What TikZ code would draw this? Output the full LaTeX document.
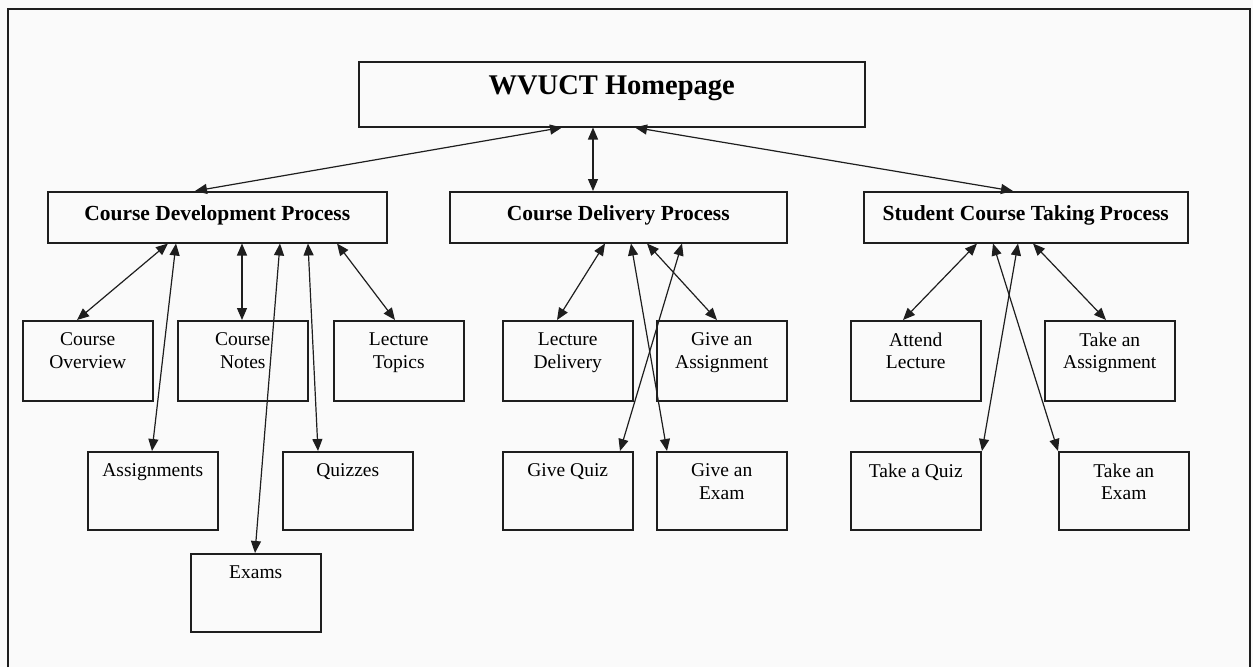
\documentclass[tikz,border=0pt]{standalone}
\usepackage{fontspec}
\setmainfont{Liberation Serif}
\usetikzlibrary{arrows.meta}
\definecolor{bg}{RGB}{250,250,250}
\definecolor{ink}{RGB}{30,30,30}
\newcommand\homefont{\fontsize{28.5}{32}\selectfont\bfseries}
\newcommand\headfont{\fontsize{21.5}{24}\selectfont\bfseries}
\newcommand\leaffont{\fontsize{19.5}{22.5}\selectfont}
\newcommand\cellA[1]{\parbox[c][80pt][t]{130pt}{\centering\vspace*{12pt}#1}}
\newcommand\cellB[1]{\parbox[c][78pt][t]{130pt}{\centering\vspace*{12pt}#1}}
\tikzset{
  frameline/.style={line width=2pt, draw=ink},
  boxbase/.style={draw=ink, line width=1.5pt, inner sep=0pt, anchor=north west},
  homebox/.style={boxbase, font=\homefont, minimum width=506pt, minimum height=65pt, text height=19pt, text depth=18pt},
  headbox/.style={boxbase, font=\headfont, minimum height=51pt, text height=15pt, text depth=9pt},
  leafbox/.style={boxbase, font=\leaffont},
  link/.style={line width=1.2pt, draw=ink, {Triangle[length=12pt,width=10pt]}-{Triangle[length=12pt,width=10pt]}}
}
\begin{document}
\begin{tikzpicture}[x=1pt,y=-1pt]
\fill[bg] (0,0) rectangle (1253,667);
\useasboundingbox (0,0) rectangle (1253,667);
\draw[frameline] (8,667) -- (8,9) -- (1250,9) -- (1250,667);

% top
\node[homebox] (hp) at (358,61) {WVUCT Homepage};

% process boxes
\node[headbox, minimum width=339pt] (cdp) at (47,191) {Course Development Process};
\node[headbox, minimum width=337pt] (cdel) at (449,191) {Course Delivery Process};
\node[headbox, minimum width=324pt] (sctp) at (863,191) {Student Course Taking Process};

% development leaves
\node[leafbox] (co) at (22,320) {\cellA{Course\\Overview}};
\node[leafbox] (cn) at (177,320) {\cellA{Course\\Notes}};
\node[leafbox] (lt) at (333,320) {\cellA{Lecture\\Topics}};
\node[leafbox] (as) at (87,451) {\cellB{Assignments}};
\node[leafbox] (qz) at (282,451) {\cellB{Quizzes}};
\node[leafbox] (ex) at (190,553) {\cellB{Exams}};

% delivery leaves
\node[leafbox] (ld) at (502,320) {\cellA{Lecture\\Delivery}};
\node[leafbox] (ga) at (656,320) {\cellA{Give an\\Assignment}};
\node[leafbox] (gq) at (502,451) {\cellB{Give Quiz}};
\node[leafbox] (ge) at (656,451) {\cellB{Give an\\Exam}};

% student leaves
\node[leafbox] (al) at (850,320) {\cellA{Attend\\Lecture}};
\node[leafbox] (ta) at (1044,320) {\cellA{Take an\\Assignment}};
\node[leafbox] (tq) at (850,451) {\cellB{Take a Quiz}};
\node[leafbox] (te) at (1058,451) {\cellB{Take an\\Exam}};

% homepage links
\draw[link] ([xshift=204pt]hp.south west) -- ([xshift=148pt]cdp.north west);
\draw[link] ([xshift=235pt]hp.south west) -- ([xshift=144pt]cdel.north west);
\draw[link] ([xshift=277pt]hp.south west) -- ([xshift=150pt]sctp.north west);

% development links
\draw[link] ([xshift=121pt]cdp.south west) -- ([xshift=55pt]co.north west);
\draw[link] ([xshift=129pt]cdp.south west) -- ([xshift=65pt]as.north west);
\draw[link] ([xshift=195pt]cdp.south west) -- ([xshift=65pt]cn.north west);
\draw[link] ([xshift=233pt]cdp.south west) -- ([xshift=65pt]ex.north west);
\draw[link] ([xshift=261pt]cdp.south west) -- ([xshift=36pt]qz.north west);
\draw[link] ([xshift=290pt]cdp.south west) -- ([xshift=62pt]lt.north west);

% delivery links
\draw[link] ([xshift=156pt]cdel.south west) -- ([xshift=55pt]ld.north west);
\draw[link] ([xshift=198pt]cdel.south west) -- ([xshift=61pt]ga.north west);
\draw[link] ([xshift=233pt]cdel.south west) -- ([xshift=118pt]gq.north west);
\draw[link] ([xshift=182pt]cdel.south west) -- ([xshift=11pt]ge.north west);

% student links
\draw[link] ([xshift=114pt]sctp.south west) -- ([xshift=53pt]al.north west);
\draw[link] ([xshift=170pt]sctp.south west) -- ([xshift=62pt]ta.north west);
\draw[link] ([xshift=155pt]sctp.south west) -- ([xshift=132pt]tq.north west);
\draw[link] ([xshift=130pt]sctp.south west) -- ([xshift=0pt]te.north west);
\end{tikzpicture}
\end{document}
